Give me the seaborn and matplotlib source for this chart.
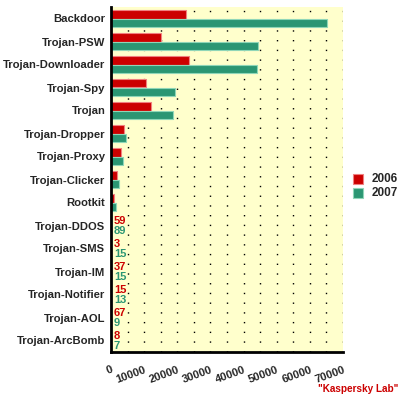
import pandas as pd
import matplotlib
matplotlib.use('Agg')
import matplotlib.pyplot as plt
import seaborn as sns
from matplotlib.ticker import MultipleLocator, FixedLocator

#data
categories = ['Backdoor', 'Trojan-PSW', 'Trojan-Downloader', 'Trojan-Spy', 'Trojan',
              'Trojan-Dropper', 'Trojan-Proxy', 'Trojan-Clicker', 'Rootkit', 'Trojan-DDOS',
              'Trojan-SMS', 'Trojan-IM', 'Trojan-Notifier', 'Trojan-AOL', 'Trojan-ArcBomb']
values_2006 = [22600, 15000, 23600, 10600, 12000, 4000, 3000, 1800, 800, 59, 3, 37, 15, 67, 8]
values_2007 = [65300, 44500, 44000, 19300, 18800, 4400, 3600, 2500, 1500, 89, 15, 15, 13, 9, 7]
years = ['2006', '2007']
labelled = ['Trojan-DDOS', 'Trojan-SMS', 'Trojan-IM', 'Trojan-Notifier', 'Trojan-AOL', 'Trojan-ArcBomb']

red = '#CC0000'
green = '#2B9673'
edges = ['#F08080', '#8FD6B8']

data = pd.DataFrame({'Category': categories * 2,
                     'Year': ['2006'] * len(categories) + ['2007'] * len(categories),
                     'Count': values_2006 + values_2007})

sns.set_style('white')
plt.rcParams['font.family'] = ['Liberation Sans', 'DejaVu Sans']
plt.rcParams['font.weight'] = 'bold'

fig = plt.figure(figsize=(4, 4), dpi=100)
ax = fig.add_axes([0.2775, 0.12, 0.58, 0.8625])
ax.set_facecolor('#FFFFCC')

sns.barplot(data=data, y='Category', x='Count', hue='Year', hue_order=years,
            order=categories, palette=[red, green], orient='h', width=0.72,
            saturation=1, ax=ax, legend=False)

for cont, ec in zip(ax.containers, edges):
    for p in cont:
        p.set_edgecolor(ec)
        p.set_linewidth(0.8)

#value labels on the tiny bars
for i, cat in enumerate(categories):
    if cat in labelled:
        ax.text(900, i - 0.21, str(values_2006[i]), color=red, fontsize=8,
                fontweight='bold', va='center', ha='left')
        ax.text(900, i + 0.25, str(values_2007[i]), color=green, fontsize=8,
                fontweight='bold', va='center', ha='left')

ax.set_xlim(0, 70000)
ax.set_ylim(len(categories) - 0.5, -0.5)
ax.set_xlabel('')
ax.set_ylabel('')

ax.grid(False)
for gx in range(5000, 70001, 5000):
    ax.axvline(gx, color='black', linestyle=(0, (1, 6)), linewidth=1, zorder=0.5)

ax.set_xticks(range(0, 70001, 10000))
ax.set_xticklabels([str(v) for v in range(0, 70001, 10000)], rotation=20,
                   ha='right', rotation_mode='anchor', fontsize=8, fontweight='bold')
ax.xaxis.set_minor_locator(MultipleLocator(5000))
ax.tick_params(axis='x', which='major', direction='out', length=5, width=2, color='black', pad=4)
ax.tick_params(axis='x', which='minor', length=0)

ax.set_yticks(range(len(categories)))
ax.set_yticklabels(categories, fontsize=8.1, fontweight='bold')
ax.yaxis.set_minor_locator(FixedLocator([i - 0.5 for i in range(len(categories) + 1)]))
ax.tick_params(axis='y', which='major', length=0, pad=4)
ax.tick_params(axis='y', which='minor', direction='out', length=5, width=2, color='black')

for side in ['top', 'right']:
    ax.spines[side].set_visible(False)
for side in ['left', 'bottom']:
    ax.spines[side].set_linewidth(2)
    ax.spines[side].set_color('black')

#legend
for j, (yr, c, ec) in enumerate(zip(years, [red, green], edges)):
    fig.patches.append(plt.Rectangle((0.882, 0.54 - j * 0.035), 0.025, 0.025,
                                     facecolor=c, edgecolor=ec, linewidth=0.8,
                                     transform=fig.transFigure, figure=fig))
    fig.text(0.93, 0.552 - j * 0.035, yr, fontsize=8.5, fontweight='bold', va='center')

fig.text(0.995, 0.02, '"Kaspersky Lab"', color=red, fontsize=7.2, fontweight='bold', ha='right')

fig.savefig('out.png', dpi=100, facecolor='white')
